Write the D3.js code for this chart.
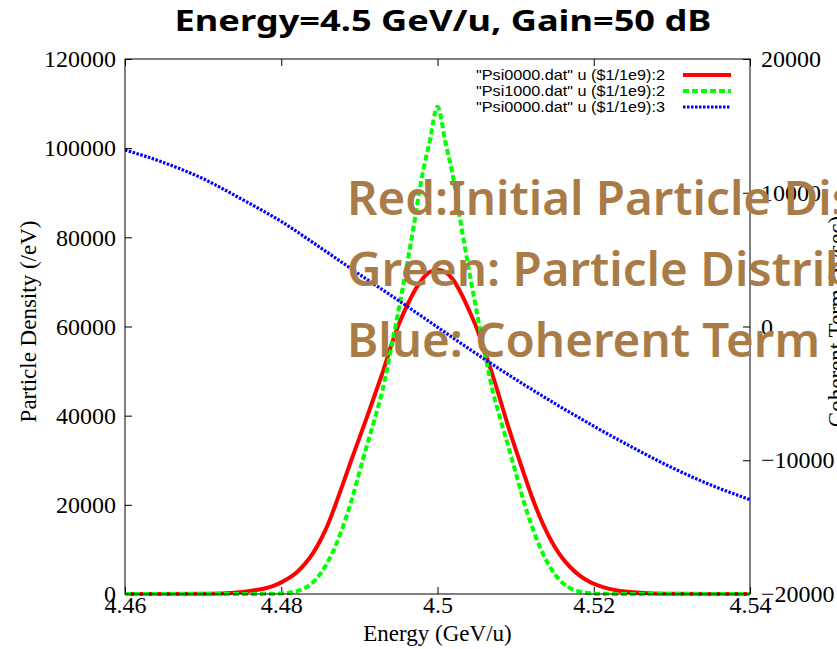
<!DOCTYPE html>
<html>
<head>
<meta charset="utf-8">
<script src="https://cdn.jsdelivr.net/npm/d3@7"></script>
<style>
  body { margin: 0; background: #fff; }
  svg { display: block; }
</style>
</head>
<body>
<svg id="chart" width="837" height="649"></svg>
<script>
// Axis ticks
const energyTicks = [4.46, 4.48, 4.50, 4.52, 4.54];
const densityTicks = [0, 20000, 40000, 60000, 80000, 100000, 120000];
const coherentTicks = [-20000, -10000, 0, 10000, 20000];

// Particle density samples (GeV/u -> /eV)
const densityEnergy = [
  4.460, 4.465, 4.470, 4.473, 4.476, 4.477, 4.478, 4.479, 4.480, 4.481,
  4.482, 4.483, 4.484, 4.485, 4.486, 4.487, 4.488, 4.489, 4.490, 4.491,
  4.492, 4.493, 4.494, 4.495, 4.496, 4.497, 4.498, 4.499, 4.500, 4.501,
  4.502, 4.503, 4.504, 4.505, 4.506, 4.507, 4.508, 4.509, 4.510, 4.511,
  4.512, 4.513, 4.514, 4.515, 4.516, 4.517, 4.518, 4.519, 4.520, 4.521,
  4.522, 4.523, 4.524, 4.527, 4.530, 4.535, 4.540
];
const initialDensity = [
  0, 5, 50, 170, 700, 950, 1300, 1850, 2600, 3600,
  4900, 6700, 9000, 12000, 15700, 20300, 25200, 30200, 35000, 39800,
  44800, 49800, 55300, 60300, 64300, 67800, 70500, 72200, 72700, 72200,
  70500, 67500, 63800, 59700, 54700, 49400, 43700, 37900, 32500, 27300,
  22200, 17700, 13800, 10600, 8000, 6000, 4400, 3200, 2300, 1650,
  1150, 800, 560, 150, 45, 5, 0
];
const finalDensity = [
  0, 0, 0, 0, 0, 10, 30, 60, 130, 300,
  650, 1300, 2500, 4500, 7300, 11000, 15600, 21000, 27300, 33500,
  39500, 46000, 54500, 63500, 73000, 83000, 93500, 101500, 109300, 101500,
  93500, 83000, 73000, 63500, 54500, 46000, 39500, 33500, 27300, 21000,
  15600, 11000, 7300, 4500, 2500, 1300, 650, 300, 130, 60,
  30, 10, 0, 0, 0, 0, 0
];

// Coherent term samples (right axis)
const coherentEnergy = [
  4.460, 4.465, 4.470, 4.475, 4.480, 4.485, 4.490, 4.495, 4.500,
  4.505, 4.510, 4.515, 4.520, 4.525, 4.530, 4.535, 4.540
];
const coherentTerm = [
  13200, 12250, 11050, 9500, 7850, 5900, 3900, 1950, -50,
  -2050, -3950, -5750, -7450, -9050, -10550, -11850, -12950
];

const legendLabels = [
  '"Psi0000.dat" u ($1/1e9):2',
  '"Psi1000.dat" u ($1/1e9):2',
  '"Psi0000.dat" u ($1/1e9):3'
];
const noteLines = [
  "Red:Initial Particle Distribution",
  "Green: Particle Distribution",
  "Blue: Coherent Term"
];

const svg = d3.select("#chart");
const W = 837, H = 649;
const m = { left: 125, right: 750, top: 59, bottom: 594 };
const serif = "'Liberation Serif', 'DejaVu Serif', serif";
const sans = "'Liberation Sans', Arial, sans-serif";
const display = "'Noto Sans', 'Open Sans', sans-serif";

svg.append("rect").attr("width", W).attr("height", H).attr("fill", "#fff");

const x = d3.scaleLinear().domain([4.46, 4.54]).range([m.left, m.right]);
const y = d3.scaleLinear().domain([0, 120000]).range([m.bottom, m.top]);
const y2 = d3.scaleLinear().domain([-20000, 20000]).range([m.bottom, m.top]);

const tickLen = 7;

// Axes (ticks drawn inward, x ticks mirrored on top)
function styleAxis(g) {
  g.select(".domain").remove();
  g.selectAll(".tick line").attr("stroke", "#000").attr("stroke-width", 1);
  g.selectAll(".tick text").attr("font-family", serif).attr("font-size", 24).attr("fill", "#000");
}
svg.append("g").attr("transform", `translate(0,${m.bottom})`)
  .call(d3.axisBottom(x).tickValues(energyTicks).tickSize(-tickLen).tickPadding(2)
    .tickFormat(d => String(+d.toFixed(2))))
  .call(styleAxis);
svg.append("g").attr("transform", `translate(0,${m.top})`)
  .call(d3.axisTop(x).tickValues(energyTicks).tickSize(-tickLen).tickFormat(""))
  .call(styleAxis);
svg.append("g").attr("transform", `translate(${m.left},0)`)
  .call(d3.axisLeft(y).tickValues(densityTicks).tickSize(-tickLen).tickPadding(9)
    .tickFormat(d3.format("d")))
  .call(styleAxis);
svg.append("g").attr("transform", `translate(${m.right},0)`)
  .call(d3.axisRight(y2).tickValues(coherentTicks).tickSize(-tickLen).tickPadding(11)
    .tickFormat(d3.format("d")))
  .call(styleAxis);

// Axis titles
svg.append("text").attr("x", (m.left + m.right) / 2).attr("y", 641)
  .attr("text-anchor", "middle").attr("font-family", serif).attr("font-size", 23)
  .text("Energy (GeV/u)");
svg.append("text").attr("transform", `translate(36,${(m.top + m.bottom) / 2 - 5}) rotate(-90)`)
  .attr("text-anchor", "middle").attr("font-family", serif).attr("font-size", 23)
  .text("Particle Density (/eV)");
svg.append("text").attr("transform", `translate(844,${(m.top + m.bottom) / 2 - 5}) rotate(-90)`)
  .attr("text-anchor", "middle").attr("font-family", serif).attr("font-size", 23)
  .text("Coherent Term (V/sec)");

// Curves
svg.append("clipPath").attr("id", "plot-clip").append("rect")
  .attr("x", m.left).attr("y", m.top - 4).attr("width", m.right - m.left).attr("height", m.bottom - m.top + 8);
const plot = svg.append("g").attr("clip-path", "url(#plot-clip)");

const series = [
  { xs: densityEnergy, ys: initialDensity, scale: y, color: "#ff0000", width: 4, dash: null },
  { xs: densityEnergy, ys: finalDensity, scale: y, color: "#00ff00", width: 4, dash: "6,3" },
  { xs: coherentEnergy, ys: coherentTerm, scale: y2, color: "#0000ff", width: 3.2, dash: "2.5,1.5" }
];
series.forEach(s => {
  const line = d3.line().x(i => x(s.xs[i])).y(i => s.scale(s.ys[i])).curve(d3.curveMonotoneX);
  plot.append("path")
    .attr("d", line(d3.range(s.xs.length)))
    .attr("fill", "none").attr("stroke", s.color).attr("stroke-width", s.width)
    .attr("stroke-dasharray", s.dash);
});

// Frame
svg.append("rect").attr("x", m.left).attr("y", m.top)
  .attr("width", m.right - m.left).attr("height", m.bottom - m.top)
  .attr("fill", "none").attr("stroke", "#000").attr("stroke-width", 1);

// Legend
const legend = svg.append("g");
series.forEach((s, i) => {
  const ly = 75 + i * 16;
  legend.append("text").attr("x", 665).attr("y", ly + 5).attr("text-anchor", "end")
    .attr("font-family", sans).attr("font-size", 15)
    .attr("textLength", 189).attr("lengthAdjust", "spacingAndGlyphs")
    .text(legendLabels[i]);
  legend.append("line").attr("x1", 683).attr("x2", 731).attr("y1", ly).attr("y2", ly)
    .attr("stroke", s.color).attr("stroke-width", s.width).attr("stroke-dasharray", s.dash);
});

// Title
const title = svg.append("text").attr("font-family", display).attr("font-weight", "bold")
  .attr("font-size", 29).attr("text-anchor", "middle")
  .text("Energy=4.5 GeV/u, Gain=50 dB");
const tw = title.node().getComputedTextLength();
title.attr("transform", `translate(443,31) scale(${537 / tw},1)`);

// Annotation lines
const notes = svg.append("g");
const probe = notes.append("text").attr("font-family", display).attr("font-weight", 600)
  .attr("font-size", 46).text(noteLines[2]);
const sx = 473 / probe.node().getComputedTextLength();
probe.remove();
noteLines.forEach((t, i) => {
  notes.append("text").attr("font-family", display).attr("font-weight", 600)
    .attr("font-size", 46).attr("fill", "#a97c47")
    .attr("transform", `translate(347,${215 + i * 71}) scale(${sx},1)`)
    .text(t);
});
</script>
</body>
</html>
